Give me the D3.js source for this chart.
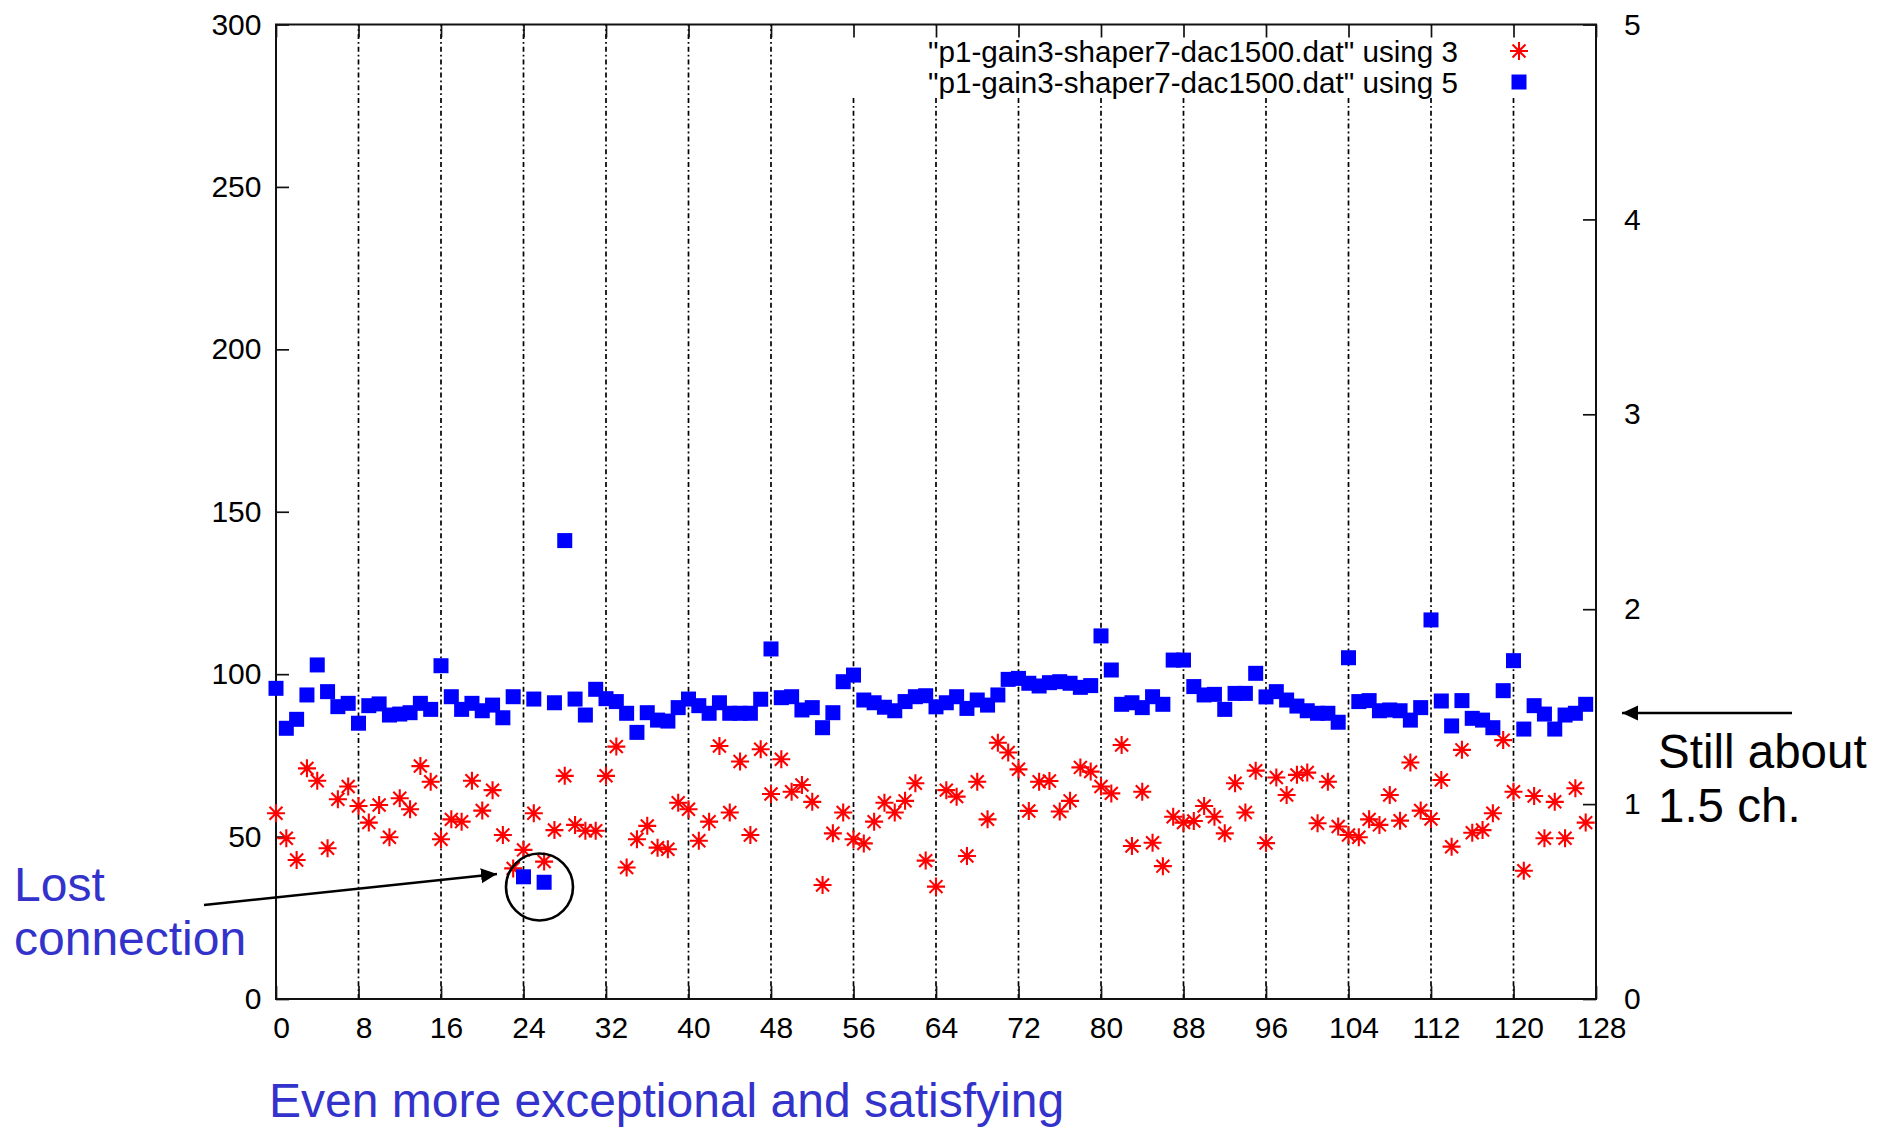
<!DOCTYPE html>
<html>
<head>
<meta charset="utf-8">
<script src="https://cdn.jsdelivr.net/npm/d3@7"></script>
<style>
html,body{margin:0;padding:0;background:#fff;}
svg{display:block;}
text{font-family:"Liberation Sans",Arial,Helvetica,sans-serif;}
</style>
</head>
<body>
<svg id="chart" width="1894" height="1130"></svg>
<script>
// ---- data ----
const channels = d3.range(0, 128);
const using3 = [57.2,49.5,42.8,71.0,67.2,46.4,61.5,65.4,59.4,54.3,59.7,49.8,61.8,58.4,71.7,66.9,
  49.2,55.3,54.6,67.2,58.0,64.3,50.5,40.2,45.9,57.2,42.3,52.0,68.7,53.6,51.8,51.8,
  68.7,77.7,40.5,49.2,53.3,46.6,46.1,60.4,58.4,48.7,54.6,77.9,57.4,73.1,50.5,76.9,
  63.1,73.8,63.8,65.9,60.7,35.1,51.0,57.4,49.2,47.9,54.6,60.4,57.4,61.0,66.4,42.6,
  34.6,64.3,62.3,44.0,66.9,55.3,78.9,75.9,70.7,57.9,66.9,67.1,57.7,61.0,71.3,70.0,
  65.4,63.3,78.2,47.1,63.8,48.1,40.9,56.1,54.3,54.8,59.4,56.1,51.0,66.4,57.4,70.3,
  48.0,68.2,62.8,69.0,69.7,54.1,66.9,53.1,50.5,49.8,55.3,53.6,62.8,54.9,72.8,58.0,
  55.4,67.4,46.9,76.7,51.2,52.0,57.2,79.7,63.8,39.5,62.5,49.5,60.7,49.5,64.9,54.3];
const using5 = [1.594,1.389,1.435,1.560,1.714,1.577,1.500,1.517,1.415,1.505,1.514,1.457,1.462,1.469,1.517,1.486,
  1.710,1.551,1.486,1.517,1.479,1.508,1.443,1.551,0.627,1.539,0.599,1.520,2.352,1.539,1.457,1.589,
  1.541,1.526,1.466,1.368,1.469,1.431,1.426,1.495,1.539,1.505,1.466,1.520,1.466,1.466,1.466,1.538,
  1.796,1.546,1.551,1.483,1.495,1.392,1.469,1.628,1.662,1.534,1.520,1.497,1.479,1.526,1.551,1.556,
  1.499,1.520,1.551,1.491,1.534,1.508,1.560,1.640,1.645,1.620,1.606,1.623,1.628,1.620,1.599,1.608,
  1.863,1.688,1.512,1.520,1.495,1.551,1.512,1.739,1.739,1.603,1.560,1.563,1.486,1.568,1.568,1.671,
  1.550,1.577,1.534,1.503,1.479,1.466,1.466,1.420,1.751,1.526,1.531,1.479,1.483,1.479,1.431,1.495,
  1.945,1.529,1.401,1.531,1.440,1.431,1.392,1.582,1.736,1.385,1.505,1.462,1.385,1.457,1.466,1.512];
const xTicks = [0,8,16,24,32,40,48,56,64,72,80,88,96,104,112,120,128];
const yTicks = [0,50,100,150,200,250,300];
const y2Ticks = [0,1,2,3,4,5];
const gridTicks = [8,16,24,32,40,48,56,64,72,80,88,96,104,112,120];
const legendLabels = ['"p1-gain3-shaper7-dac1500.dat" using 3', '"p1-gain3-shaper7-dac1500.dat" using 5'];

// ---- layout ----
const L = 276, R = 1596, T = 24.5, B = 999;
const svg = d3.select("#chart");
const x = d3.scaleLinear().domain([0,128]).range([L,R]);
const y = d3.scaleLinear().domain([0,300]).range([B,T]);
const y2 = d3.scaleLinear().domain([0,5]).range([B,T]);
const FS = 30;

// grid
svg.append("g").selectAll("line").data(gridTicks).join("line")
  .attr("x1", d=>x(d)).attr("x2", d=>x(d)).attr("y1", B).attr("y2", T)
  .attr("stroke","#000").attr("stroke-width",1.7).attr("stroke-dasharray","5,3,1.8,3");

// key box (opaque)
svg.append("rect").attr("x",845).attr("y",T+1).attr("width",R-845-1).attr("height",97-T-1).attr("fill","#fff");

function styleAxis(g){
  g.select(".domain").remove();
  g.selectAll(".tick line").attr("stroke","#111").attr("stroke-width",1.7);
  g.selectAll(".tick text").attr("fill","#000").style("font-size",FS+"px")
    .style("font-family",'"Liberation Sans",Arial,sans-serif');
}
svg.append("g").attr("transform",`translate(${L},0)`)
  .call(d3.axisLeft(y).tickValues(yTicks).tickSizeInner(-13).tickSizeOuter(0).tickPadding(14.5))
  .call(styleAxis);
svg.append("g").attr("transform",`translate(${R},0)`)
  .call(d3.axisRight(y2).tickValues(y2Ticks).tickSizeInner(-13).tickSizeOuter(0).tickPadding(28).tickFormat(d3.format("d")))
  .call(styleAxis);
svg.append("g").attr("transform",`translate(0,${B})`)
  .call(d3.axisBottom(x).tickValues(xTicks).tickSizeInner(-13).tickSizeOuter(0).tickPadding(18))
  .call(styleAxis)
  .call(g=>g.selectAll(".tick text").attr("dx",5));
svg.append("g").attr("transform",`translate(0,${T})`)
  .call(d3.axisTop(x).tickValues(xTicks).tickSizeInner(-13).tickSizeOuter(0).tickFormat(""))
  .call(styleAxis);

// frame
svg.append("rect").attr("x",L).attr("y",T).attr("width",R-L).attr("height",B-T)
  .attr("fill","none").attr("stroke","#111").attr("stroke-width",2);

// marker shapes
const S = 9;
const starPath = `M${-S},0L${S},0M0,${-S}L0,${S}M${-S*0.72},${-S*0.72}L${S*0.72},${S*0.72}M${-S*0.72},${S*0.72}L${S*0.72},${-S*0.72}`;
const Q = 15;

// series using 3 (red stars, left axis)
svg.append("g").selectAll("path").data(channels).join("path")
  .attr("d", starPath)
  .attr("transform", i=>`translate(${x(i)},${y(using3[i])})`)
  .attr("stroke","#ff0000").attr("stroke-width",2.1).attr("fill","none");

// series using 5 (blue squares, right axis)
svg.append("g").selectAll("rect").data(channels).join("rect")
  .attr("x", i=>x(i)-Q/2).attr("y", i=>y2(using5[i])-Q/2)
  .attr("width",Q).attr("height",Q).attr("fill","#0000ff");

// legend
const legY = [51, 82];
svg.append("g").selectAll("text").data(legendLabels).join("text")
  .attr("x",1458).attr("y",(d,i)=>legY[i]+10.5).attr("text-anchor","end")
  .attr("textLength",530).attr("lengthAdjust","spacingAndGlyphs")
  .style("font-size",FS+"px").attr("fill","#000").text(d=>d);
svg.append("path").attr("d",starPath).attr("transform",`translate(1519,${legY[0]})`)
  .attr("stroke","#ff0000").attr("stroke-width",2.1).attr("fill","none");
svg.append("rect").attr("x",1519-Q/2).attr("y",legY[1]-Q/2).attr("width",Q).attr("height",Q).attr("fill","#0000ff");

// annotations
const defs = svg.append("defs");
defs.append("marker").attr("id","ah").attr("viewBox","0 0 16 16").attr("refX",16).attr("refY",8)
  .attr("markerWidth",16).attr("markerHeight",16).attr("markerUnits","userSpaceOnUse").attr("orient","auto")
  .append("path").attr("d","M0,0.5L16,8L0,15.5Z").attr("fill","#000");

svg.append("line").attr("x1",204).attr("y1",905).attr("x2",497).attr("y2",874)
  .attr("stroke","#000").attr("stroke-width",2.6).attr("marker-end","url(#ah)");
svg.append("circle").attr("cx",539.5).attr("cy",887).attr("r",33.5)
  .attr("fill","none").attr("stroke","#000").attr("stroke-width",2.6);
svg.append("line").attr("x1",1792).attr("y1",713).attr("x2",1622).attr("y2",713)
  .attr("stroke","#000").attr("stroke-width",2.6).attr("marker-end","url(#ah)");

const blue = "#3333cc";
svg.append("text").attr("x",14).attr("y",901).style("font-size","48px").attr("fill",blue).text("Lost");
svg.append("text").attr("x",14).attr("y",955).style("font-size","48px").attr("fill",blue).text("connection");
svg.append("text").attr("x",269).attr("y",1117).style("font-size","48px").attr("fill",blue).text("Even more exceptional and satisfying");
svg.append("text").attr("x",1658).attr("y",768).style("font-size","47.5px").attr("fill","#000").text("Still about");
svg.append("text").attr("x",1658).attr("y",822).style("font-size","47.5px").attr("fill","#000").text("1.5 ch.");
</script>
</body>
</html>
